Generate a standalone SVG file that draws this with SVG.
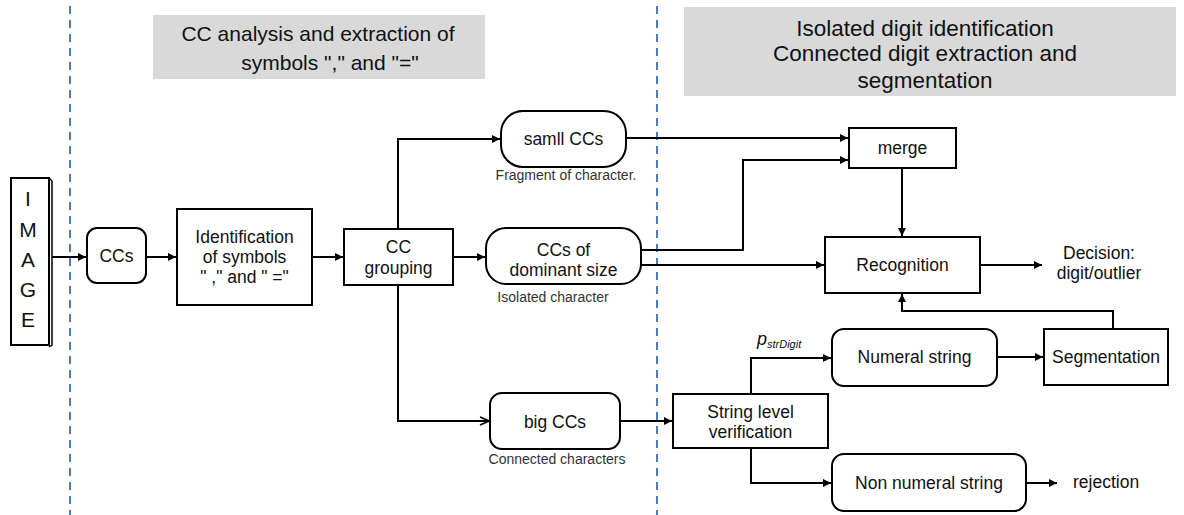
<svg xmlns="http://www.w3.org/2000/svg" width="1184" height="515" viewBox="0 0 1184 515">
<defs>
<marker id="arr" viewBox="0 0 10 10" refX="10" refY="5" markerWidth="10" markerHeight="8" markerUnits="userSpaceOnUse" orient="auto"><path d="M0,0 L10,5 L0,10 z" fill="#000"/></marker>
<marker id="open" viewBox="0 0 10 10" refX="10" refY="5" markerWidth="10" markerHeight="10" markerUnits="userSpaceOnUse" orient="auto"><path d="M1,1 L10,5 L1,9" fill="none" stroke="#000" stroke-width="1.6"/></marker>
<style>
.box{fill:#fff;stroke:#000;stroke-width:2}
.hdr{fill:#d9d9d9}
.t{font-family:"Liberation Sans",Arial,sans-serif;font-size:17.5px;fill:#111;text-anchor:middle}
.h{font-family:"Liberation Sans",Arial,sans-serif;font-size:21px;fill:#111;text-anchor:middle}
.h2{font-family:"Liberation Sans",Arial,sans-serif;font-size:22.5px;fill:#111;text-anchor:middle}
.cap{font-family:"Liberation Sans",Arial,sans-serif;font-size:14px;fill:#333;text-anchor:middle}
.img{font-family:"Liberation Sans",Arial,sans-serif;font-size:21px;fill:#111;text-anchor:middle}
.c{fill:none;stroke:#000;stroke-width:2}
.dash{stroke:#4a7ebb;stroke-width:2;stroke-dasharray:8,6}
</style>
</defs>
<g id="separators">
<line class="dash" x1="70" y1="6" x2="70" y2="515"/>
<line class="dash" x1="657" y1="6" x2="657" y2="515"/>
</g>
<g id="header-left">
<rect class="hdr" x="153" y="15" width="332" height="64"/>
<text class="h" x="318" y="40.5">CC analysis and extraction of</text>
<text class="h" x="330" y="69.5">symbols "," and "="</text>
</g>
<g id="header-right">
<rect class="hdr" x="684" y="7" width="492" height="89"/>
<text class="h2" x="925" y="36">Isolated digit identification</text>
<text class="h2" x="925" y="61">Connected digit extraction and</text>
<text class="h2" x="925" y="88">segmentation</text>
</g>
<g id="image">
<rect class="box" x="11" y="178" width="38" height="167" stroke-width="1.5"/>
<path d="M49,178 L52,181 L52,345 L49,347" fill="none" stroke="#000" stroke-width="1.5"/>
<text class="img" x="28" y="206">I</text>
<text class="img" x="28" y="237">M</text>
<text class="img" x="28" y="267">A</text>
<text class="img" x="28" y="297">G</text>
<text class="img" x="28" y="327">E</text>
</g>
<g id="ccs">
<rect class="box" x="87" y="228" width="59" height="55" rx="10"/>
<text class="t" x="116.5" y="262">CCs</text>
</g>
<g id="identification">
<rect class="box" x="177" y="209" width="135" height="96"/>
<text class="t" x="244.5" y="243">Identification</text>
<text class="t" x="244.5" y="263">of symbols</text>
<text class="t" x="244.5" y="283">" ," and " ="</text>
</g>
<g id="cc-grouping">
<rect class="box" x="344" y="229" width="109" height="56"/>
<text class="t" x="398.5" y="253">CC</text>
<text class="t" x="398.5" y="274">grouping</text>
</g>
<g id="small-ccs">
<rect class="box" x="501" y="111" width="125" height="56" rx="22"/>
<text class="t" x="563.5" y="145">samll CCs</text>
<text class="cap" x="566" y="180">Fragment of character.</text>
</g>
<g id="dominant">
<rect class="box" x="486" y="228" width="155" height="56" rx="20"/>
<text class="t" x="563.5" y="256">CCs of</text>
<text class="t" x="563.5" y="276">dominant size</text>
<text class="cap" x="553" y="302">Isolated character</text>
</g>
<g id="big-ccs">
<rect class="box" x="490" y="393" width="130" height="56" rx="12"/>
<text class="t" x="555" y="428">big CCs</text>
<text class="cap" x="557" y="464">Connected characters</text>
</g>
<g id="merge">
<rect class="box" x="849" y="128" width="107" height="40"/>
<text class="t" x="902.5" y="154">merge</text>
</g>
<g id="recognition">
<rect class="box" x="825" y="237" width="155" height="56"/>
<text class="t" x="902.5" y="271">Recognition</text>
</g>
<g id="decision">
<text class="t" x="1099" y="259">Decision:</text>
<text class="t" x="1099" y="279">digit/outlier</text>
</g>
<g id="string-level">
<rect class="box" x="673" y="394" width="155" height="54"/>
<text class="t" x="750.5" y="418">String level</text>
<text class="t" x="750.5" y="438">verification</text>
</g>
<g id="numeral">
<rect class="box" x="832" y="329" width="165" height="57" rx="12"/>
<text class="t" x="914.5" y="363">Numeral string</text>
</g>
<g id="segmentation">
<rect class="box" x="1044" y="329" width="124" height="56"/>
<text class="t" x="1106" y="363">Segmentation</text>
</g>
<g id="non-numeral">
<rect class="box" x="832" y="454" width="194" height="57" rx="12"/>
<text class="t" x="929" y="489">Non numeral string</text>
</g>
<g id="rejection">
<text class="t" x="1073" y="488" style="text-anchor:start">rejection</text>
</g>
<g id="connectors">
<path class="c" d="M52,257 H86" marker-end="url(#arr)"/>
<path class="c" d="M146,257 H176" marker-end="url(#arr)"/>
<path class="c" d="M312,257 H343" marker-end="url(#arr)"/>
<path class="c" d="M398,229 V139 H500" marker-end="url(#arr)"/>
<path class="c" d="M453,257 H485" marker-end="url(#arr)"/>
<path class="c" d="M398,285 V421 H489" marker-end="url(#open)"/>
<path class="c" d="M626,138 H848" marker-end="url(#arr)"/>
<path class="c" d="M641,250 H743 V160 H848" marker-end="url(#arr)"/>
<path class="c" d="M641,265 H824" marker-end="url(#arr)"/>
<path class="c" d="M902,168 V236" marker-end="url(#arr)"/>
<path class="c" d="M980,265 H1042" marker-end="url(#arr)"/>
<path class="c" d="M620,421 H672" marker-end="url(#arr)"/>
<path class="c" d="M751,394 V358 H831" marker-end="url(#arr)"/>
<path class="c" d="M751,448 V483 H831" marker-end="url(#arr)"/>
<path class="c" d="M997,357 H1043" marker-end="url(#arr)"/>
<path class="c" d="M1113,329 V311 H902 V294" marker-end="url(#arr)"/>
<path class="c" d="M1026,483 H1057" marker-end="url(#arr)"/>
<text x="757" y="345" font-family="Liberation Sans, Arial, sans-serif" font-style="italic" font-size="18" fill="#111">p<tspan font-size="11" dy="3">strDigit</tspan></text>
</g>
</svg>
